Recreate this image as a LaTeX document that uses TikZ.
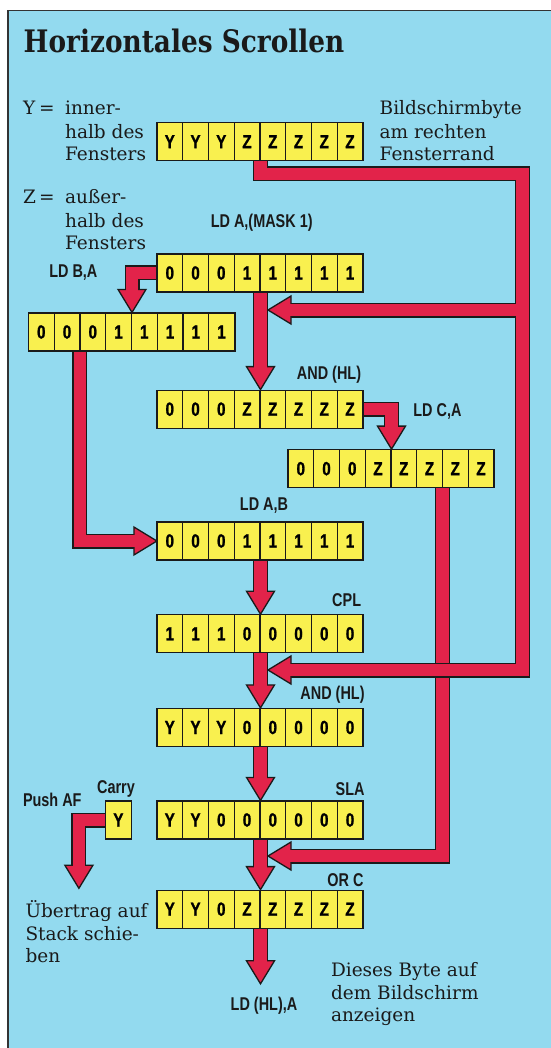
\documentclass[tikz,border=0pt]{standalone}
\usepackage{fontspec}
\setmainfont{DejaVu Serif}
\newfontfamily\condf[FakeStretch=0.78]{Liberation Sans}
\newfontfamily\cellf[FakeStretch=0.8,FakeBold=1.2]{Liberation Sans}
\newfontfamily\titlef[FakeStretch=0.85]{DejaVu Serif}
\usetikzlibrary{calc}
\definecolor{bluec}{HTML}{93DAEF}
\definecolor{redc}{HTML}{E2234A}
\definecolor{yel}{HTML}{F9F04F}
\definecolor{outl}{HTML}{1A1A1A}
\definecolor{panelline}{HTML}{333333}
\pgfdeclarelayer{paper}
\pgfdeclarelayer{arrowl}
\pgfsetlayers{paper,arrowl,main}
\tikzset{
 bodyt/.style={font=\fontsize{18.5}{23}\selectfont, inner sep=0pt, text=outl, anchor=base west},
 labt/.style={font=\condf\bfseries\fontsize{18.5}{22}\selectfont, inner sep=0pt, text=outl},
 bitcell/.style={draw=outl, fill=yel, line width=1.2pt, minimum width=25.75pt, minimum height=38pt, inner sep=0pt, font=\cellf\bfseries\fontsize{19}{20}\selectfont},
 bytefr/.style={draw=outl, line width=1.2pt, minimum width=206pt, minimum height=38pt, inner sep=0pt},
 shout/.style={draw=outl, line width=15pt, line join=miter},
 shin/.style={draw=redc, line width=12.4pt, line join=miter},
 headst/.style={fill=redc, draw=outl, line width=1.3pt, line join=miter},
}
\newcommand\mkbyte[4]{%
 \node[bytefr] (#1) at (#2+103,#3) {};
 \foreach \ch [count=\k] in {#4} {\node[bitcell] (#1c\k) at ($(#1.west)+(\k*25.75-12.875,0)$) {\ch};}
}
\newcommand\headD[1]{\draw[headst] (#1) -- ++(-14,-23) -- ++(28,0) -- cycle;}
\newcommand\headL[1]{\draw[headst] (#1) -- ++(23,-14) -- ++(0,28) -- cycle;}
\newcommand\headR[1]{\draw[headst] (#1) -- ++(-23,-14) -- ++(0,28) -- cycle;}
\newcommand\redarrow[3]{%
 \draw[shout,shorten >=-1pt] #1;
 #2{#3}
 \draw[shin,shorten >=-2.2pt] #1;
}
\begin{document}
\begin{tikzpicture}[x=1pt,y=-1pt]
\useasboundingbox (0,0) rectangle (550,1048);
\begin{pgfonlayer}{paper}
\fill[white] (0,0) rectangle (550,1048);
\fill[bluec] (7.7,10.5) rectangle (552,1050);
\draw[panelline, line width=1.6pt] (7.7,1050) -- (7.7,10.5) -- (552,10.5);
\end{pgfonlayer}

% title
\node[anchor=base west, inner sep=0pt, text=outl, font=\titlef\bfseries\fontsize{31}{33}\selectfont] (title) at (23.5,53) {Horizontales Scrollen};

% bytes
\mkbyte{b1}{157.5}{141.7}{Y,Y,Y,Z,Z,Z,Z,Z}
\mkbyte{b2}{157.5}{273}{0,0,0,1,1,1,1,1}
\mkbyte{b3}{29}{332}{0,0,0,1,1,1,1,1}
\mkbyte{b4}{157.5}{409.2}{0,0,0,Z,Z,Z,Z,Z}
\mkbyte{b5}{288.5}{468.7}{0,0,0,Z,Z,Z,Z,Z}
\mkbyte{b6}{157.5}{541}{0,0,0,1,1,1,1,1}
\mkbyte{b7}{157.5}{633.8}{1,1,1,0,0,0,0,0}
\mkbyte{b8}{157.5}{727.5}{Y,Y,Y,0,0,0,0,0}
\mkbyte{b9}{157.5}{820}{Y,Y,0,0,0,0,0,0}
\mkbyte{b10}{157.5}{909.2}{Y,Y,0,Z,Z,Z,Z,Z}
\node[bitcell] (cy) at (118.4,820) {Y};

% serif texts
\node[bodyt] (ly) at (22.8,115) {Y};
\node[bodyt, anchor=base] (leq1) at (47,115) {=};
\node[bodyt] (l1a) at (64.9,115) {inner-};
\node[bodyt] (l1b) at (64.9,138.3) {halb des};
\node[bodyt] (l1c) at (64.9,161) {Fensters};
\node[bodyt] (lz) at (22.8,204) {Z};
\node[bodyt, anchor=base] (leq2) at (47,204) {=};
\node[bodyt] (l2a) at (64.9,204) {außer-};
\node[bodyt] (l2b) at (64.9,227.3) {halb des};
\node[bodyt] (l2c) at (64.9,250) {Fensters};
\node[bodyt] (r1a) at (379.5,115) {Bildschirmbyte};
\node[bodyt] (r1b) at (379.5,138.3) {am rechten};
\node[bodyt] (r1c) at (379.5,161) {Fensterrand};
\node[bodyt] (u1) at (25.3,917.3) {Übertrag auf};
\node[bodyt] (u2) at (25.3,940) {Stack schie-};
\node[bodyt] (u3) at (25.3,962.7) {ben};
\node[bodyt] (d1) at (330.8,976.7) {Dieses Byte auf};
\node[bodyt] (d2) at (330.8,999.3) {dem Bildschirm};
\node[bodyt] (d3) at (330.8,1021.7) {anzeigen};

% instruction labels
\node[labt, anchor=base] (lmask) at (261.7,227.5) {LD A,(MASK 1)};
\node[labt, anchor=base west] (lba) at (49.1,277.3) {LD B,A};
\node[labt, anchor=base east] (land1) at (361.3,379.3) {AND (HL)};
\node[labt, anchor=base west] (lca) at (413.2,416.7) {LD C,A};
\node[labt, anchor=base] (lab) at (264,510.5) {LD A,B};
\node[labt, anchor=base east] (lcpl) at (361.3,606) {CPL};
\node[labt, anchor=base east] (land2) at (364.8,699.3) {AND (HL)};
\node[labt, anchor=base east] (lsla) at (364.8,795) {SLA};
\node[labt, anchor=base] (lcarry) at (116,793.3) {Carry};
\node[labt, anchor=base west] (lpush) at (22.8,806.7) {Push AF};
\node[labt, anchor=base east] (lorc) at (363.7,886) {OR C};
\node[labt, anchor=base] (lldhl) at (264,1010) {LD (HL),A};

% arrows
\begin{pgfonlayer}{arrowl}
\coordinate (c3) at ($(b3.south west)+(51.5,0)$);
\coordinate (c5) at ($(b5.south west)+(154.5,0)$);
\coordinate (endt) at ($(b10.south)+(0,55)$);
\coordinate (pusht) at (78.9,888.3);
\coordinate (t7) at (268,856);
\coordinate (r1) at (522.6,174);
\coordinate (r2) at (522.6,670);
\coordinate (rb) at (522.6,310);
\coordinate (t8) at (268,670);
\coordinate (t9) at (268,310);

\redarrow{(b2.west) -| ($(b3.north)+(0,-23)$)}{\headD}{b3.north}
\redarrow{(b2.south) -- ($(b4.north)+(0,-23)$)}{\headD}{b4.north}
\redarrow{(b4.east) -| ($(b5.north)+(0,-23)$)}{\headD}{b5.north}
\redarrow{(c3) |- ($(b6.west)+(-23,0)$)}{\headR}{b6.west}
\redarrow{(b6.south) -- ($(b7.north)+(0,-23)$)}{\headD}{b7.north}
\redarrow{(b7.south) -- ($(b8.north)+(0,-23)$)}{\headD}{b8.north}
\redarrow{(b8.south) -- ($(b9.north)+(0,-23)$)}{\headD}{b9.north}
\redarrow{(b9.south) -- ($(b10.north)+(0,-23)$)}{\headD}{b10.north}
\redarrow{(b10.south) -- ($(endt)+(0,-23)$)}{\headD}{endt}
\redarrow{(cy.west) -| ($(pusht)+(0,-23)$)}{\headD}{pusht}
\redarrow{(c5) |- ($(t7)+(23,0)$)}{\headL}{t7}

\draw[shout,shorten >=-1pt] (b1.south) |- (r1) -- (r2) -- ($(t8)+(23,0)$);
\draw[shout,shorten >=-1pt] (rb) -- ($(t9)+(23,0)$);
\headL{t8}
\headL{t9}
\draw[shin,shorten >=-2.2pt] (b1.south) |- (r1) -- (r2) -- ($(t8)+(23,0)$);
\draw[shin,shorten >=-2.2pt] (rb) -- ($(t9)+(23,0)$);
\end{pgfonlayer}
\end{tikzpicture}
\end{document}
